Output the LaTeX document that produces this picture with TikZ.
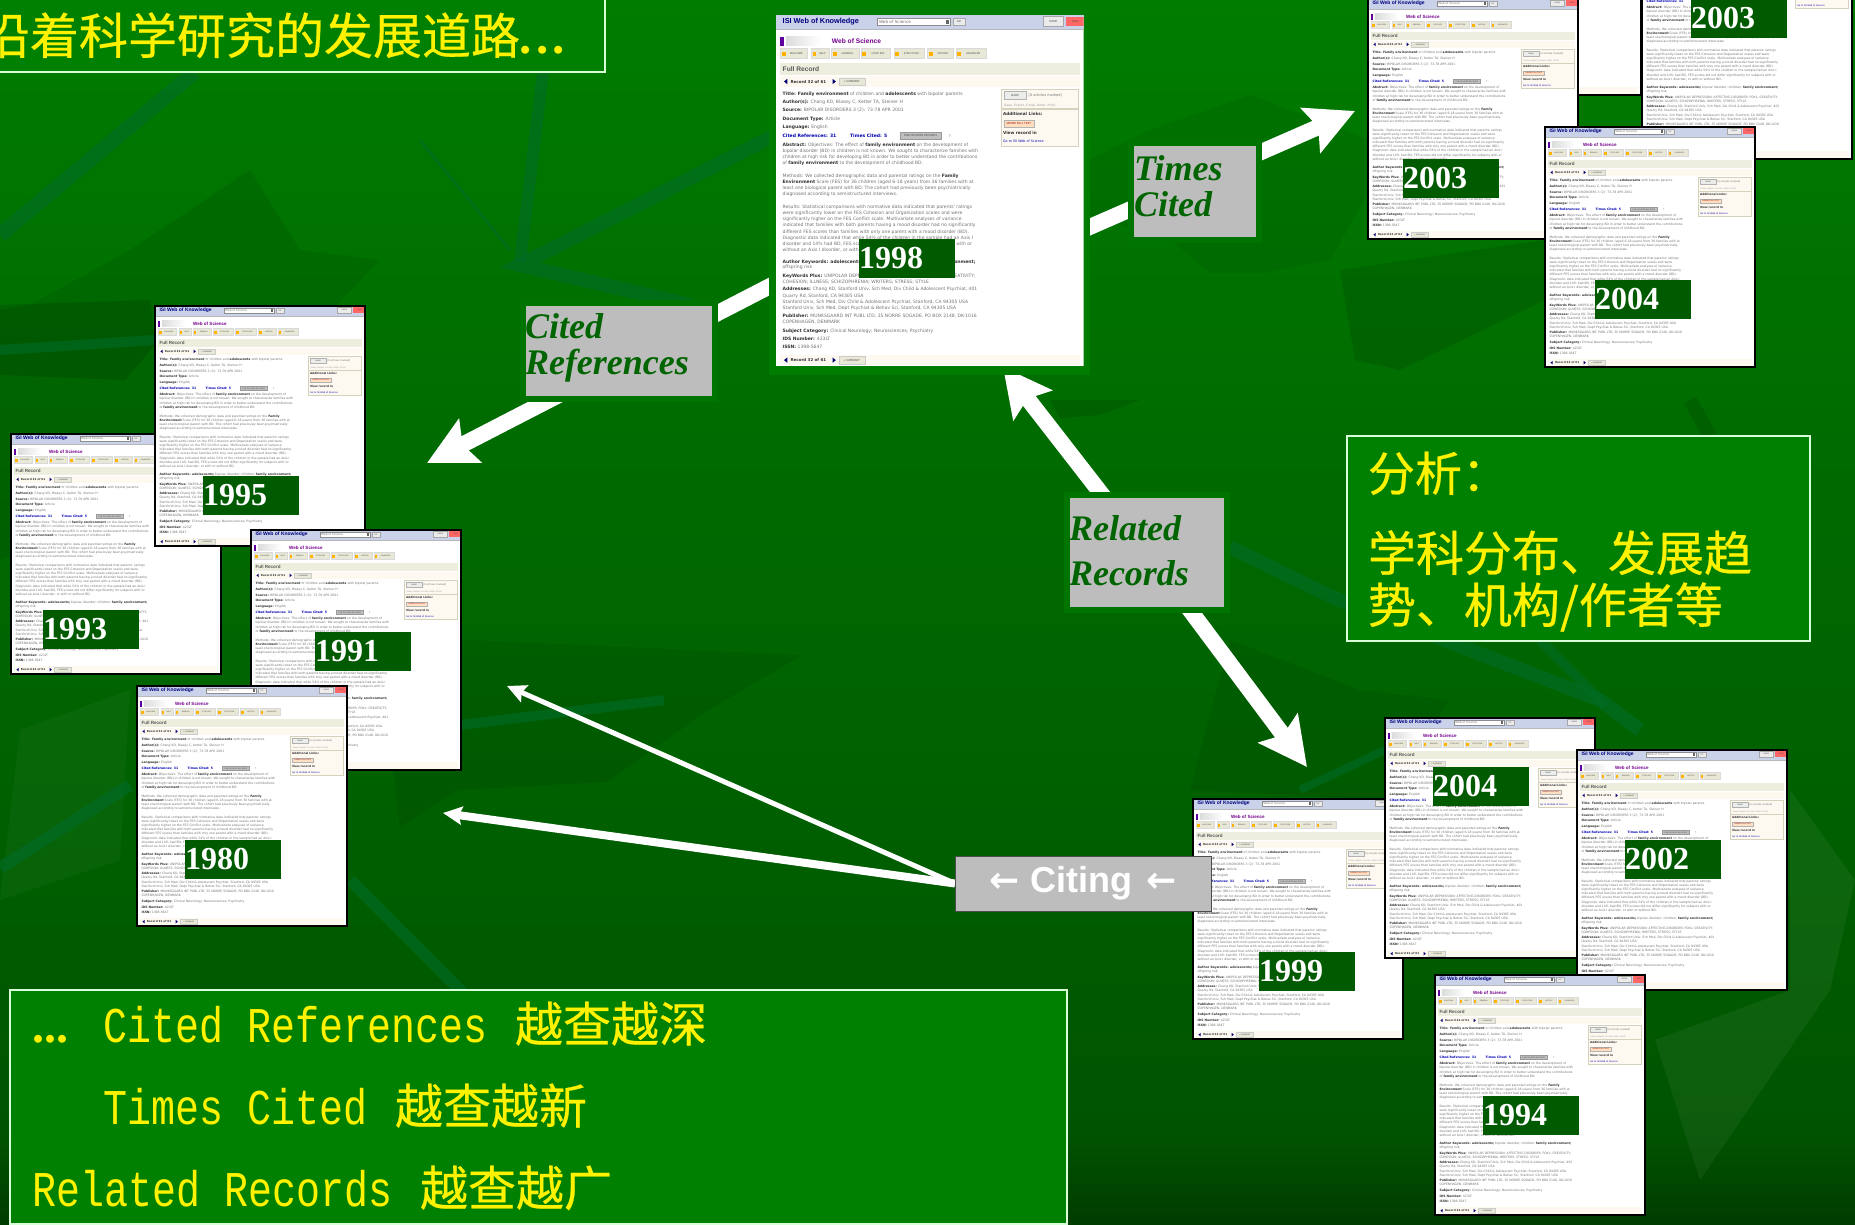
\documentclass[tikz,border=0pt]{standalone}
\usepackage{fontspec}
\setmainfont{Liberation Serif}
\newfontfamily\uif{DejaVu Sans}
\newfontfamily\cjkf[FakeBold=0.5]{Noto Sans CJK SC}
\newfontfamily\monof{Liberation Mono}
\newfontfamily\sansf{Liberation Sans}
\usetikzlibrary{arrows.meta}
\pgfdeclarelayer{bgl}
\pgfdeclarelayer{arrowlayer}
\pgfsetlayers{bgl,arrowlayer,main}
\definecolor{boxgreen}{HTML}{008000}
\definecolor{framegreen}{HTML}{007400}
\definecolor{mainframegreen}{HTML}{007C00}
\definecolor{labelgray}{HTML}{BDBDBD}
\definecolor{labeltext}{HTML}{006400}
\definecolor{yeargreen}{HTML}{005A00}
\definecolor{streak}{HTML}{006C28}
\definecolor{hdrblue}{HTML}{C9D2E8}
\definecolor{toolbg}{HTML}{E9E7D6}
\definecolor{bandbg}{HTML}{EEEEDF}
\definecolor{rowbg}{HTML}{FDF9F1}
\definecolor{gA}{HTML}{007C00}
\definecolor{gB}{HTML}{006C00}
\definecolor{gC}{HTML}{006000}
\definecolor{gD}{HTML}{005400}
\definecolor{gE}{HTML}{003C00}
\tikzset{
  yellowbox/.style={draw=white!85!green,line width=1.5pt,fill=boxgreen,inner sep=0pt,outer sep=0pt},
  yellowtext/.style={text=yellow,inner sep=0pt,outer sep=0pt},
  lab/.style={draw=framegreen,line width=6pt,fill=labelgray,inner sep=0pt,outer sep=0pt},
  labtxt/.style={text=labeltext,inner sep=0pt,outer sep=0pt,anchor=north west,align=left,
    font=\fontsize{36}{36}\selectfont\bfseries\itshape},
  yearbox/.style={fill=yeargreen,text=white,inner sep=0pt,outer sep=0pt,anchor=north west,
    minimum height=39pt,text width=96pt,align=left,font=\fontsize{32}{32}\selectfont\bfseries},
  shotframe/.style={draw=black,line width=1.5pt,inner sep=0pt,outer sep=0pt,anchor=north west,
    minimum width=210pt,minimum height=240pt},
  bigarrow/.style={draw=white,line width=16pt,-{Stealth[length=48pt,width=48pt,inset=8pt]}},
  thinarrow/.style={draw=white,-{Stealth[length=19pt,width=18pt,inset=3pt]}},
  streakline/.style={draw=streak,line cap=butt,opacity=.6},
  shottext/.style={anchor=base west,inner sep=0pt,outer sep=0pt,text=black!55,
    font=\uif\fontsize{13.6}{16}\selectfont},
  chrome/.style={anchor=center,inner sep=0pt,outer sep=0pt,text=black!70,
    font=\uif\fontsize{8}{9}\selectfont},
  toolbtn/.style={fill=toolbg,draw=black!15,line width=1pt},
}
\newcount\tlc
\newcommand\tl[3][20]{\global\advance\tlc by 1 \node[shottext] (t\the\tlc) at (#1,#2) {#3};}
\newcommand\ch[3]{\global\advance\tlc by 1 \node[chrome] (t\the\tlc) at (#1,#2) {#3};}
\newcommand\bb[1]{{\bfseries\color{black!80}#1}}
\newcommand\recrow[1]{%
  \fill[rowbg] (13,#1) rectangle (913,#1+32);
  \fill[blue!45!black] (24,#1+16) -- (34,#1+8) -- (34,#1+24) -- cycle;
  \fill[blue!45!black] (180,#1+16) -- (170,#1+8) -- (170,#1+24) -- cycle;
  \tl[44]{#1+21}{\bb{\fontsize{12}{14}\selectfont Record 32 of 61}}
  \filldraw[fill=toolbg,draw=black!20] (190,#1+5) rectangle (267,#1+27);
  \ch{228}{#1+16}{« SUMMARY}
}
\newcommand\shotbody{%
  \fill[white] (0,0) rectangle (925,1057);
  % header
  \fill[hdrblue] (0,0) rectangle (925,42);
  \fill[black!28] (0,42) rectangle (925,46);
  \global\advance\tlc by 1
  \node[anchor=base west,inner sep=0pt,text=blue!50!black,font=\sansf\bfseries\fontsize{22}{24}\selectfont] (t\the\tlc) at (20,26) {ISI Web of Knowledge};
  \filldraw[fill=white,draw=black!45] (303,10) rectangle (525,32);
  \tl[310]{26}{\fontsize{12.5}{14}\selectfont Web of Science}
  \fill[black!60] (510,15) rectangle (521,28);
  \filldraw[fill=black!8,draw=black!35] (533,11) rectangle (568,31);
  \ch{550}{21}{GO}
  \filldraw[fill=black!8,draw=black!35] (803,5) rectangle (865,33);
  \ch{834}{19}{HOME}
  \fill[red!60!white] (873,5) rectangle (925,33);
  \ch{900}{19}{SIGN}
  % banner
  \fill[purple!50!blue] (13,65) rectangle (23,92);
  \shade[left color=black!14,right color=white] (30,66) rectangle (135,92);
  \fill[white] (135,92) -- (152,66) -- (156,66) -- (139,92) -- cycle;
  \global\advance\tlc by 1
  \node[anchor=base west,inner sep=0pt,text=purple!60!blue,font=\sansf\bfseries\fontsize{20}{22}\selectfont] (t\the\tlc) at (168,87) {Web of Science};
  % toolbar
  \foreach \xa/\xb/\lbl in {15/95/WELCOME,107/160/HELP,168/250/GENERAL,257/345/CITED REF,355/447/STRUCTURE,457/535/HISTORY,542/633/ADVANCED}{
    \filldraw[toolbtn] (\xa,100) rectangle (\xb,132);
    \node[chrome,font=\uif\fontsize{7.5}{8}\selectfont] at ({(\xa+\xb)/2+6},116) {\lbl};
    \fill[orange!60!yellow] (\xa+3,112) rectangle (\xa+14,124);
  }
  % band
  \fill[bandbg] (13,145) rectangle (913,179);
  \global\advance\tlc by 1
  \node[anchor=base west,inner sep=0pt,text=black!65,font=\sansf\bfseries\fontsize{20}{22}\selectfont] (t\the\tlc) at (20,169) {Full Record};
  \recrow{184}
  % side panel
  \filldraw[fill=rowbg,draw=yellow!35!black!30,line width=1.2pt] (677,223) rectangle (910,395);
  \filldraw[fill=green!10!black!8,draw=black!30] (685,230) rectangle (753,252);
  \ch{719}{241}{MARK}
  \global\advance\tlc by 1
  \node[shottext,font=\uif\fontsize{10.5}{12}\selectfont] (t\the\tlc) at (760,246) {[0 articles marked]};
  \global\advance\tlc by 1
  \node[shottext,font=\uif\fontsize{9}{12}\selectfont,text=black!40] (t\the\tlc) at (685,275) {(Save, Export, E-mail, Order, Print)};
  \draw[yellow!35!black!30,line width=1.2pt] (677,283) -- (910,283);
  \tl[683]{301}{\bb{\fontsize{12.5}{14}\selectfont Additional Links:}}
  \filldraw[fill=orange!25,draw=black!30] (685,317) rectangle (775,337);
  \ch{730}{327}{\textcolor{red!60!black}{ORDER FULL TEXT}}
  \tl[683]{358}{\bb{\fontsize{12.5}{14}\selectfont View record in}}
  \tl[683]{384}{\textcolor{blue!70!black}{\fontsize{10}{12}\selectfont Go to ISI Web of Science}}
  % record
  \tl{241}{\bb{Title: Family environment} of children and \bb{adolescents} with bipolar parents}
  \tl{266}{\bb{Author(s):} Chang KD, Blasey C, Ketter TA, Steiner H}
  \tl{291}{\bb{Source:} BIPOLAR DISORDERS 3 (2): 73-78 APR 2001}
  \tl{316}{\bb{Document Type:} Article}
  \tl{341}{\bb{Language:} English}
  \tl{368}{\textcolor{blue!70!black}{\bfseries Cited References: 31}}
  \tl[223]{368}{\textcolor{blue!70!black}{\bfseries Times Cited: 5}}
  \filldraw[fill=black!25,draw=black!40] (374,353) rectangle (496,373);
  \ch{435}{363}{FIND RELATED RECORDS}
  \tl[520]{368}{\fontsize{11}{12}\selectfont ?}
  \tl{396}{\bb{Abstract:} Objectives: The effect of \bb{family environment} on the development of}
  \tl{414}{bipolar disorder (BD) in children is not known. We sought to characterize families with}
  \tl{432}{children at high risk for developing BD in order to better understand the contributions}
  \tl{450}{of \bb{family environment} to the development of childhood BD.}
  \tl{489}{Methods: We collected demographic data and parental ratings on the \bb{Family}}
  \tl{508}{\bb{Environment} Scale (FES) for 36 children (aged 6-18 years) from 36 families with at}
  \tl{526}{least one biological parent with BD. The cohort had previously been psychiatrically}
  \tl{544}{diagnosed according to semistructured interviews.}
  \tl{582}{Results: Statistical comparisons with normative data indicated that parents' ratings}
  \tl{601}{were significantly lower on the FES Cohesion and Organization scales and were}
  \tl{619}{significantly higher on the FES Conflict scale. Multivariate analyses of variance}
  \tl{637}{indicated that families with both parents having a mood disorder had no significantly}
  \tl{656}{different FES scores than families with only one parent with a mood disorder (BD).}
  \tl{674}{Diagnostic data indicated that while 54\% of the children in the sample had an Axis I}
  \tl{692}{disorder and 14\% had BD, FES scores did not differ significantly for subjects with or}
  \tl{710}{without an Axis I disorder, or with or without BD.}
  \tl{747}{\bb{Author Keywords: adolescents;} bipolar disorder; children; \bb{family environment;}}
  \tl{763}{offspring risk}
  \tl{789}{\bb{KeyWords Plus:} UNIPOLAR DEPRESSION; AFFECTIVE-DISORDER; FOXL; CREATIVITY;}
  \tl{807}{COHESION; ILLNESS; SCHIZOPHRENIA; WRITERS; STRESS; STYLE}
  \tl{830}{\bb{Addresses:} Chang KD, Stanford Univ, Sch Med, Div Child \& Adolescent Psychiat, 401}
  \tl{849}{Quarry Rd, Stanford, CA 94305 USA}
  \tl{868}{Stanford Univ, Sch Med, Div Child \& Adolescent Psychiat, Stanford, CA 94305 USA}
  \tl{886}{Stanford Univ, Sch Med, Dept Psychiat \& Behav Sci, Stanford, CA 94305 USA}
  \tl{911}{\bb{Publisher:} MUNKSGAARD INT PUBL LTD, 35 NORRE SOGADE, PO BOX 2148, DK-1016}
  \tl{928}{COPENHAGEN, DENMARK}
  \tl{954}{\bb{Subject Category:} Clinical Neurology; Neurosciences; Psychiatry}
  \tl{979}{\bb{IDS Number:} 423LT}
  \tl{1004}{\bb{ISSN:} 1398-5647}
  \recrow{1022}
}
% name, x, y
\newcommand\shot[3]{%
  \begin{scope}[shift={(#2,#3)},scale=0.227,transform shape]
    \begin{scope}
      \clip (0,0) rectangle (925,1057);
      \shotbody
    \end{scope}
  \end{scope}
  \node[shotframe] (#1) at (#2,#3) {};
}
\newcommand\yearlabel[4]{\node[yearbox] (#1) at (#2,#3) {#4};}
\newcommand\mono[1]{\scalebox{1}[1.25]{\monof\fontsize{40}{40}\selectfont #1}}
\begin{document}
\begin{tikzpicture}[x=1pt,y=-1pt]
\useasboundingbox (0,0) rectangle (1855,1225);
\clip (0,0) rectangle (1855,1225);
\begin{pgfonlayer}{bgl}
  % ground
  \shade[top color=gA,bottom color=gB] (0,0) rectangle (1855,420);
  \shade[top color=gB,bottom color=gC] (0,420) rectangle (1855,800);
  \shade[top color=gC,bottom color=gD] (0,800) rectangle (1855,1130);
  \shade[top color=gD,bottom color=gE] (0,1130) rectangle (1855,1225);
  % darker facets
  \fill[black,opacity=.08] (0,310) -- (30,305) -- (130,250) -- (250,170) -- (300,250) -- (380,260) -- (150,500) -- (0,560) -- cycle;
  \fill[black,opacity=.08] (802,655) -- (704,713) -- (607,782) -- (457,790) -- (400,827) -- (380,650) -- (470,640) -- cycle;
  \fill[black,opacity=.12] (0,305) -- (150,300) -- (155,345) -- (125,380) -- (0,375) -- cycle;
  \fill[black,opacity=.06] (1089,160) -- (1150,130) -- (1250,95) -- (1370,140) -- (1370,190) -- (1330,260) -- (1262,273) -- (1210,273) -- (1170,240) -- (1089,215) -- cycle;
  \fill[black,opacity=.10] (1050,400) -- (1140,400) -- (1100,415) -- (1060,418) -- cycle;
  \fill[black,opacity=.10] (1340,270) -- (1545,240) -- (1545,300) -- (1400,370) -- (1355,360) -- cycle;
  \fill[black,opacity=.07] (1230,640) -- (1360,690) -- (1450,700) -- (1385,800) -- (1190,790) -- cycle;
  % lighter facets
  \fill[white,opacity=.05] (1790,790) -- (1855,880) -- (1830,990) -- (1700,1180) -- (1655,1040) -- (1790,990) -- cycle;
  \fill[white,opacity=.03] (20,730) -- (130,690) -- (120,860) -- (0,900) -- cycle;
  % streaks
  \draw[streakline,line width=15pt] (195,72) -- (0,235);
  \draw[streakline,line width=12pt] (543,72) -- (520,262);
  \draw[streakline,line width=14pt] (775,135) -- (520,265) -- (690,305);
  \draw[streakline,line width=3pt] (420,140) -- (510,250);
  \draw[streakline,line width=10pt] (0,350) -- (155,340);
  \draw[streakline,line width=10pt] (461,725) -- (664,700);
  \draw[streakline,line width=14pt] (1230,547) -- (1332,597) -- (1600,700) -- (1640,730);
  \draw[streakline,line width=10pt] (1540,640) -- (1605,705);
  \draw[streakline,line width=12pt] (0,868) -- (130,785);
  \draw[streakline,line width=12pt] (350,880) -- (470,1000);
  \draw[streakline,line width=8pt] (1300,790) -- (1385,750);
  \draw[black,opacity=.1,line width=14pt] (1690,400) -- (1710,436);
\end{pgfonlayer}

% text boxes
\node[yellowbox,anchor=north west,minimum width=625pt,minimum height=92pt] (title) at (-20,-20) {};
\node[yellowtext,anchor=base west,font=\cjkf\fontsize{49}{49}\selectfont] (titletext) at (-19,54) {沿着科学研究的发展道路{\rmfamily\bfseries\addfontfeatures{LetterSpace=8}...}};
\node[yellowbox,anchor=north west,minimum width=463pt,minimum height=205pt] (analysis) at (1347,436) {};
\node[yellowtext,anchor=base west,font=\cjkf\fontsize{47}{47}\selectfont] (an1) at (1368,491) {分析：};
\node[yellowtext,anchor=base west,font=\cjkf\fontsize{48}{48}\selectfont] (an2) at (1368,571) {学科分布、发展趋};
\node[yellowtext,anchor=base west,font=\cjkf\fontsize{48}{48}\selectfont] (an3) at (1368,623) {势、机构/作者等};
\node[yellowbox,anchor=north west,minimum width=1057pt,minimum height=234pt] (summary) at (10,990) {};
\node[yellowtext,anchor=base west,font=\cjkf\fontsize{48}{48}\selectfont] (sum1) at (32,1042) {\makebox[71pt][l]{\rmfamily\bfseries ...}\mono{Cited References}\hspace{28pt}越查越深};
\node[yellowtext,anchor=base west,font=\cjkf\fontsize{48}{48}\selectfont] (sum2) at (103,1124) {\mono{Times Cited}\hspace{28pt}越查越新};
\node[yellowtext,anchor=base west,font=\cjkf\fontsize{48}{48}\selectfont] (sum3) at (32,1206) {\mono{Related Records}\hspace{28pt}越查越广};

% main record with its green frame
\node[fill=mainframegreen,inner sep=0pt,outer sep=0pt,anchor=north west,minimum width=321pt,minimum height=367pt] (mainframe) at (769,8) {};
\begin{scope}[shift={(776,15)},scale=0.3325,transform shape]
  \begin{scope}
    \clip (0,0) rectangle (925,1057);
    \shotbody
  \end{scope}
\end{scope}
\node[inner sep=0pt,outer sep=0pt,anchor=north west,minimum width=307pt,minimum height=352pt] (mainshot) at (776,15) {};
\yearlabel{y1998}{859}{239}{1998}

% the record pages
\shot{s1993}{11}{434}
\shot{s1995}{155}{306}
\shot{s1991}{251}{530}
\shot{s1980}{137}{686}
\yearlabel{y1995}{203}{476}{1995}
\yearlabel{y1993}{43}{610}{1993}
\yearlabel{y1991}{315}{632}{1991}
\yearlabel{y1980}{185}{840}{1980}

\shot{shidden}{1431}{-145}
\shot{s2003a}{1368}{-1}
\yearlabel{y2003a}{1403}{159}{2003}
\shot{s2003b}{1642}{-81}
\yearlabel{y2003b}{1691}{-1}{2003}
\shot{s2004a}{1545}{127}
\yearlabel{y2004a}{1595}{280}{2004}

\shot{s1999}{1193}{799}
\yearlabel{y1999}{1259}{952}{1999}
\shot{s2004b}{1385}{718}
\yearlabel{y2004b}{1433}{767}{2004}
\shot{s2002}{1577}{750}
\yearlabel{y2002}{1625}{840}{2002}
\shot{s1994}{1435}{975}
\yearlabel{y1994}{1483}{1096}{1994}

% connector labels
\node[lab,minimum width=192pt,minimum height=96pt] (crefs) at (619,351) {};
\node[labtxt] at (525,314) {Cited\\[0pt]References};
\node[lab,minimum width=128pt,minimum height=97pt] (tcited) at (1195,191.5) {};
\node[labtxt] at (1134,155.5) {Times\\[0pt]Cited};
\node[lab,minimum width=160pt,minimum height=115pt] (rrecords) at (1147,552.5) {};
\node[labtxt,font=\fontsize{36}{45}\selectfont\bfseries\itshape] at (1069,516) {Related\\[0pt]Records};
\node[draw=black!70,line width=1pt,fill=labelgray,inner sep=0pt,outer sep=0pt,minimum width=256pt,minimum height=55pt,text=white,font=\sansf\bfseries\fontsize{36}{36}\selectfont] (citing) at (1083,883.5) {{\uif\bfseries ←}\hspace{.3em}Citing\hspace{.4em}{\uif\bfseries ←}\hspace{36pt}};

% connectors
\coordinate (mCR) at (776,283);
\coordinate (crTip) at (427,463);
\coordinate (mTC) at (1076,233);
\coordinate (tcTip) at (1355,111);
\coordinate (rrUpTip) at (1003,367);
\coordinate (rrDownTip) at (1307,767);
\coordinate (citTipA) at (507,686);
\coordinate (citTipB) at (443,813);
\begin{pgfonlayer}{arrowlayer}
  \draw[bigarrow] (mCR) -- (crTip);
  \draw[bigarrow] (mTC) -- (tcTip);
  \draw[bigarrow] (rrecords.center) -- (rrUpTip);
  \draw[bigarrow] (rrecords.center) -- (rrDownTip);
  \draw[thinarrow,line width=5pt] (citing.west) -- (citTipA);
  \draw[thinarrow,line width=8pt] (citing.west) -- (citTipB);
\end{pgfonlayer}
\end{tikzpicture}
\end{document}
